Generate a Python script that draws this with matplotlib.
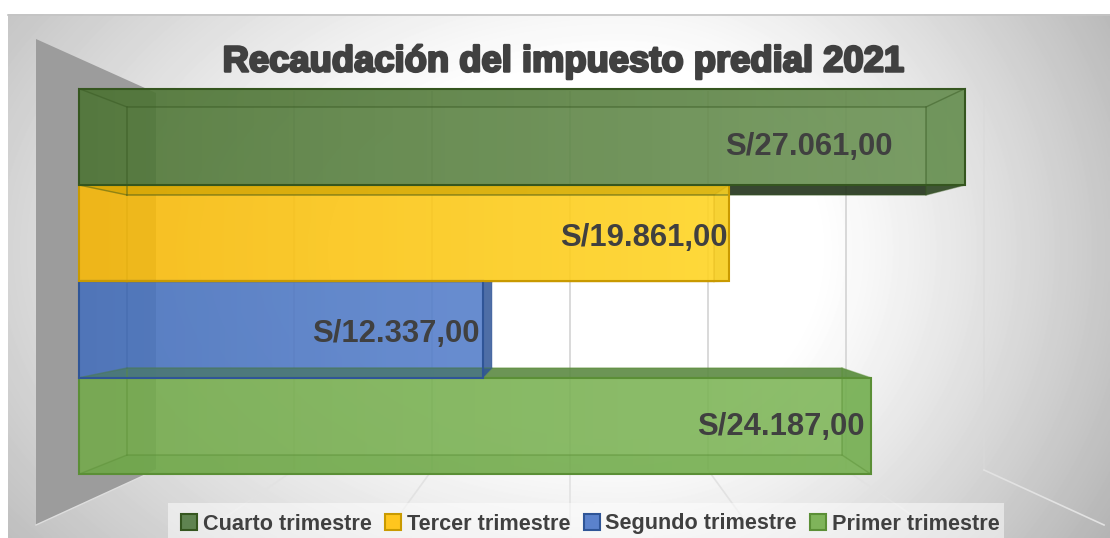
import numpy as np
import matplotlib
matplotlib.use("Agg")
import matplotlib.pyplot as plt
from matplotlib.patches import Polygon, Patch, Rectangle
from matplotlib.colors import to_rgb
import matplotlib.patheffects as pe

title = "Recaudación del impuesto predial 2021"
categories = ["Primer trimestre", "Segundo trimestre", "Tercer trimestre", "Cuarto trimestre"]
values = [24187, 12337, 19861, 27061]
value_labels = ["S/24.187,00", "S/12.337,00", "S/19.861,00", "S/27.061,00"]

W, H = 1110, 538
PX_PER_VAL = 886 / 27061
X0_PX = 79
Y0_PX = 426
ROW_PX = 96.4

grad_left = ["#77a94f", "#4a72b8", "#f4b612", "#4a6d35"]
grad_right = ["#8bbf68", "#6389d0", "#ffe33c", "#7da06b"]
edge_cols = ["#5b8f36", "#2f5597", "#c99a00", "#35561f"]
base_cols = ["#70ad47", "#4472c4", "#ffc000", "#548235"]
top_cols = ["#5c8a42", "#2f5597", "#c9a000", "#375623"]
bottom_cols = ["#5c9a3a", "#2f5597", "#c99a00", "#22331a"]
side_cols = ["#5b9a3c", "#2f5597", "#e6c220", "#5b8548"]
legend_cols = ["#7fb45a", "#5b82cc", "#ffc61e", "#5f8350"]
# back-plane corners of each box, in pixels: right end, top, bottom
back_right = [842, 492, 714, 926]
back_top = [368, 282, 195, 107]
back_bottom = [455, 368, 282, 195]
BACK_LEFT = 127

fig = plt.figure(figsize=(W / 100, H / 100), dpi=100)
ax = fig.add_axes([0, 0, 1, 1])
dx = lambda p: (p - X0_PX) / PX_PER_VAL
dy = lambda p: (Y0_PX - p) / ROW_PX
ax.set_xlim(dx(0), dx(W))
ax.set_ylim(dy(H), dy(0))
ax.set_autoscale_on(False)
ax.axis("off")
P = lambda pts: [(dx(a), dy(b)) for a, b in pts]

# chart-area radial background
xx, yy = np.meshgrid(np.arange(8, W), np.arange(14, H))
ax_x = np.where(xx < 620, 800.0, 560.0)
r = np.sqrt(((xx - 620) / ax_x) ** 2 + ((yy - 250) / 520) ** 2)
bg = 255 - np.clip((r - 0.35) / 0.6, 0, 1.3) ** 1.15 * 65
ax.imshow(bg, cmap="gray", vmin=0, vmax=255, aspect="auto", zorder=0,
          extent=(dx(8), dx(W), dy(H), dy(14)), interpolation="bilinear")
ax.plot([dx(8), dx(W)], [dy(14.5)] * 2, color="#c4c4c4", lw=1.2, zorder=1)

# left wall
ax.add_patch(Polygon(P([(36, 39), (156, 93), (156, 470), (36, 525)]), fc="#9c9c9c", ec="none", zorder=1))
ax.plot(*zip(*P([(36, 525), (156, 470)])), color="#dedede", lw=1, zorder=1)

# back-wall gridlines and floor lines
for g in [294, 432, 570, 708, 846, 984]:
    ax.plot([dx(g), dx(g)], [dy(92), dy(470)], color="#d9d9d9", lw=1.4, zorder=1.5,
            alpha=0.55 if g == 984 else 1)
    ax.plot([dx(g), dx(570 + (g - 570) * 1.29)], [dy(470), dy(525)], color="#e2e2e2", lw=1.2,
            zorder=1.5)

bars = ax.barh(range(4), values, height=1.0, left=0, color=base_cols, alpha=0.35,
               edgecolor="none", zorder=5)
for i, (bar, v) in enumerate(zip(bars, values)):
    right = X0_PX + v * PX_PER_VAL
    tb, bb, br = back_top[i], back_bottom[i], back_right[i]
    ftop, fbot = Y0_PX - ROW_PX * (i + .5), Y0_PX - ROW_PX * (i - .5)
    c0, c1 = np.array(to_rgb(grad_left[i])), np.array(to_rgb(grad_right[i]))
    t = np.linspace(0, 1, 256)[None, :, None]
    rgba = np.dstack([(c0 + (c1 - c0) * t)[0][None, :, :], np.full((1, 256, 1), 0.84)])
    im = ax.imshow(rgba, aspect="auto", zorder=4.5, extent=(0, v, i + .5, i - .5), interpolation="bilinear")
    im.set_clip_path(Rectangle((0, i - .5), v, 1, transform=ax.transData))
    # inner box: top, bottom and side faces plus back edges
    top_alpha = {0: 0.9, 1: 0.1, 2: 0.35, 3: 0.12}[i]
    ax.add_patch(Polygon(P([(79, ftop), (BACK_LEFT, tb), (br, tb), (right, ftop)]),
                         fc=top_cols[i], ec="none", alpha=top_alpha, zorder=4.6 if i in (0, 3) else 5.3))
    ax.add_patch(Polygon(P([(right, ftop), (br, tb), (br, bb), (right, fbot)]),
                         fc=side_cols[i], ec="none", alpha=0.85 if i == 1 else 0.25,
                         zorder=4.6 if i == 1 else 5.3))
    ax.add_patch(Polygon(P([(79, fbot), (BACK_LEFT, bb), (br, bb), (right, fbot)]),
                         fc=bottom_cols[i], ec="none", alpha=0.9 if i == 3 else 0.18,
                         zorder=4.4 if i == 3 else 5.3))
    line_alpha = 0.45 if i in (0, 3) else 0.22
    ax.plot(*zip(*P([(BACK_LEFT, bb), (BACK_LEFT, tb), (br, tb), (br, bb), (BACK_LEFT, bb)])),
            color=edge_cols[i], lw=1.2, alpha=line_alpha, zorder=5.4)
    for a, b in [((79, ftop), (BACK_LEFT, tb)), ((right, ftop), (br, tb)),
                 ((79, fbot), (BACK_LEFT, bb)), ((right, fbot), (br, bb))]:
        ax.plot(*zip(*P([a, b])), color=edge_cols[i], lw=1.0, alpha=line_alpha, zorder=5.4)
    ax.add_patch(Rectangle((0, i - .5), v, 1, fc="none", ec=edge_cols[i], lw=1.5, zorder=6 + i * 0.01))

# labels
label_right = [865, 480, 728, 893]
label_y = [427, 334, 238, 147]
for i, lab in enumerate(value_labels):
    ax.text(dx(label_right[i]), dy(label_y[i]), lab, ha="right", va="center",
            family="Liberation Sans", weight="bold", fontsize=22.3, color="#404040", zorder=8)

ax.text(dx(563), dy(62), title, ha="center", va="center", family="Liberation Sans", weight="bold",
        fontsize=26.2, color="#404040", zorder=8,
        path_effects=[pe.withStroke(linewidth=1.8, foreground="#404040")])

# legend
ax.add_patch(Rectangle((dx(168), dy(H)), dx(1004) - dx(168), dy(503) - dy(H), fc="white", ec="none",
                       alpha=0.5, zorder=6.5))
handles = [Patch(fc=legend_cols[i], ec=edge_cols[i], lw=1.5, label=categories[i]) for i in [3, 2, 1, 0]]
leg = ax.legend(handles=handles, ncol=4, loc="lower left", bbox_to_anchor=(181 / W, 3.5 / H),
                bbox_transform=fig.transFigure, frameon=False, handlelength=0.74, handleheight=0.74,
                handletextpad=0.26, columnspacing=0.62, borderpad=0, borderaxespad=0,
                prop={"family": "Liberation Sans", "weight": "bold", "size": 15.6})
leg.set_zorder(7)
for t in leg.get_texts():
    t.set_color("#404040")

fig.savefig("out.png", dpi=100)
